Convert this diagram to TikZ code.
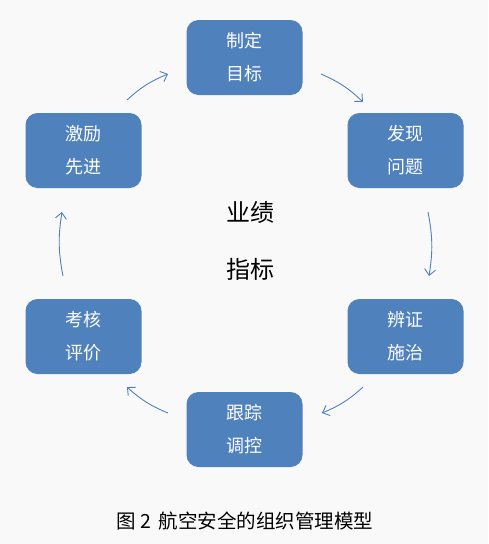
\documentclass[tikz,border=0pt]{standalone}
\usepackage{fontspec}
\setmainfont{Noto Sans CJK SC}
\usetikzlibrary{arrows.meta}
\definecolor{boxblue}{RGB}{79,129,189}
\definecolor{bgc}{RGB}{249,249,249}
\begin{document}
\begin{tikzpicture}[x=1pt,y=-1pt,
  stepbox/.style={fill=boxblue,draw=none,rounded corners=12pt,minimum width=116pt,minimum height=75pt,
    text=white,font=\fontsize{18}{33}\selectfont,align=center,inner sep=0pt},
  flow/.style={draw=boxblue,line width=0.9pt,-{Straight Barb[length=6pt,width=11pt]}}]
\fill[bgc] (0,0) rectangle (488,544);
\useasboundingbox (0,0) rectangle (488,544);
\node[stepbox] (n1) at (244.5,57.5) {制定\\目标};
\node[stepbox] (n2) at (405.5,150.5) {发现\\问题};
\node[stepbox] (n3) at (405.5,336.5) {辨证\\施治};
\node[stepbox] (n4) at (244.5,429.5) {跟踪\\调控};
\node[stepbox] (n5) at (83.5,336.5) {考核\\评价};
\node[stepbox] (n6) at (83.5,150.5) {激励\\先进};
\node[font=\fontsize{24}{57}\selectfont,align=center,text=black] (c) at (250,241) {业绩\\指标};
\node[font=\fontsize{19.5}{22}\selectfont,text=black] (cap) at (245,521) {图 2 \,航空安全的组织管理模型};
\coordinate (a1s) at (127,100); \coordinate (a1e) at (168,74);
\coordinate (a2s) at (321,74); \coordinate (a2e) at (363,102);
\coordinate (a3s) at (428,212); \coordinate (a3e) at (429,276);
\coordinate (a4s) at (363,387); \coordinate (a4e) at (322,413);
\coordinate (a5s) at (168,413); \coordinate (a5e) at (127,387);
\coordinate (a6s) at (63,276); \coordinate (a6e) at (62,212);
\draw[flow] (a1s) to[bend left=10] (a1e);
\draw[flow] (a2s) to[bend left=10] (a2e);
\draw[flow] (a3s) to[bend left=10] (a3e);
\draw[flow] (a4s) to[bend left=10] (a4e);
\draw[flow] (a5s) to[bend left=10] (a5e);
\draw[flow] (a6s) to[bend left=10] (a6e);
\end{tikzpicture}
\end{document}
